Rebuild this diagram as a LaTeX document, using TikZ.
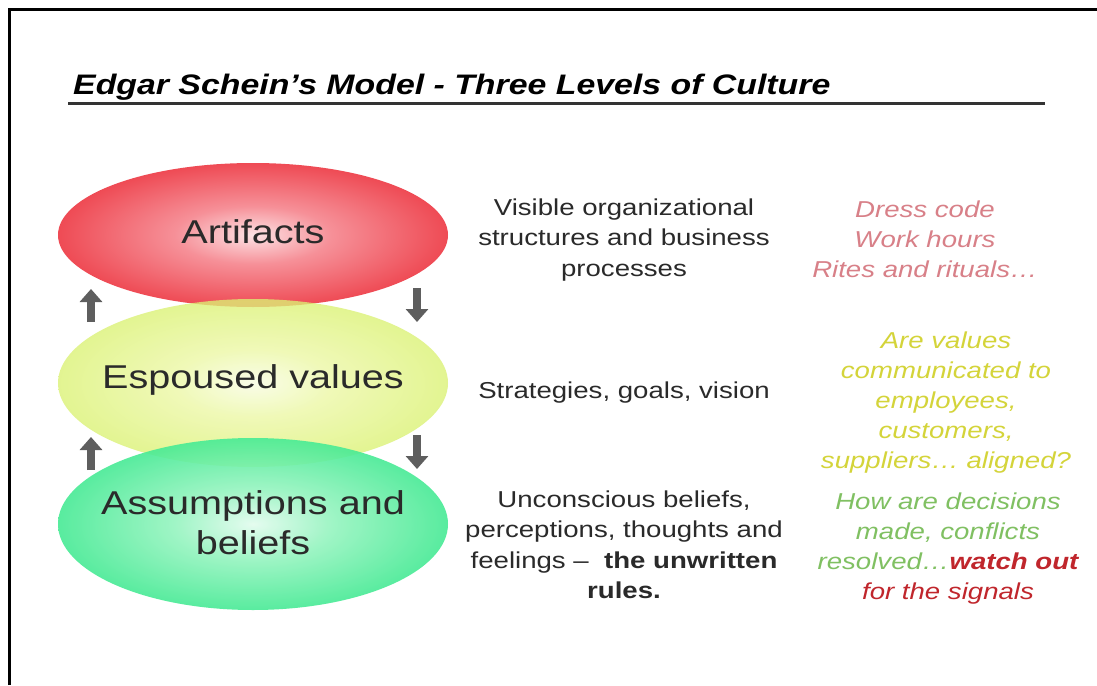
\documentclass[tikz,border=0pt]{standalone}
\usepackage{fontspec}
\usetikzlibrary{shapes.geometric, arrows.meta, positioning}
\newfontfamily\wsans[FakeStretch=1.2]{Liberation Sans}

\definecolor{artlight}{HTML}{FCE2E4}
\definecolor{artmid}{HTML}{F69098}
\definecolor{artdeep}{HTML}{EE4650}
\definecolor{artred}{HTML}{E82E38}
\definecolor{vallight}{HTML}{F8FCE2}
\definecolor{valmid}{HTML}{ECF8A4}
\definecolor{valdeep}{HTML}{DAF270}
\definecolor{valyellow}{HTML}{CCEC44}
\definecolor{asslight}{HTML}{E2FCEE}
\definecolor{assmid}{HTML}{96F4C0}
\definecolor{assdeep}{HTML}{42EA92}
\definecolor{assgreen}{HTML}{16DE6C}
\definecolor{txtdark}{HTML}{2A2A2A}
\definecolor{arrowgray}{HTML}{5E5E5E}
\definecolor{notered}{HTML}{D88088}
\definecolor{noteyellow}{HTML}{D4D43A}
\definecolor{notegreen}{HTML}{80C062}
\definecolor{signalred}{HTML}{C0262C}

% radial fills for the three layers
\pgfdeclareradialshading{artglow}{\pgfpoint{0bp}{0bp}}{color(0bp)=(artlight); color(10bp)=(artmid); color(26bp)=(artdeep); color(42bp)=(artred); color(50bp)=(artred)}
\pgfdeclareradialshading{valglow}{\pgfpoint{0bp}{0bp}}{color(0bp)=(vallight); color(10bp)=(valmid); color(26bp)=(valdeep); color(42bp)=(valyellow); color(50bp)=(valyellow)}
\pgfdeclareradialshading{assglow}{\pgfpoint{0bp}{0bp}}{color(0bp)=(asslight); color(10bp)=(assmid); color(26bp)=(assdeep); color(42bp)=(assgreen); color(50bp)=(assgreen)}

\tikzset{
  layer/.style={ellipse, inner sep=0pt, minimum width=390}, % the three stacked ellipses
  layertext/.style={align=center, text=txtdark, font=\wsans\fontsize{33}{40}\selectfont},
  midtext/.style={align=center, text=txtdark, font=\wsans\fontsize{23}{30.5}\selectfont},
  note/.style={align=center, font=\wsans\itshape\fontsize{23}{30}\selectfont},
  flow/.style={draw=arrowgray, line width=8pt, -{Triangle[width=22pt, length=13pt]}},
}

\begin{document}
\begin{tikzpicture}[x=1pt, y=-1pt]
  \useasboundingbox (0,0) rectangle (1097,685);
  \fill[white] (0,0) rectangle (1097,685);
  % frame
  \draw[line width=3pt] (9,685) |- (1097,10);

  % title
  \node[anchor=base west, inner sep=0pt, font=\wsans\bfseries\itshape\fontsize{28.2}{32}\selectfont] (title) at (73,94)
    {Edgar Schein’s Model - Three Levels of Culture};
  \draw[line width=3pt, color=black!80] (68,103) -- (1045,103);

  % layers
  \node[layer, shading=artglow, minimum height=144] (art) at (253,235) {};
  \node[layer, shading=valglow, fill opacity=0.78, minimum height=168] (val) at (253,383) {};
  \node[layer, shading=assglow, fill opacity=0.9, minimum height=172] (ass) at (253,524) {};
  \node[layertext] (arttext) at ([yshift=3]art.center) {Artifacts};
  \node[layertext] (valtext) at ([yshift=3]val.center) {Espoused values};
  \node[layertext] (asstext) at ([yshift=1]ass.center) {Assumptions and\\beliefs};

  % arrows between the layers
  \coordinate (upa) at (91,322);   \coordinate (upb) at (91,289);
  \coordinate (upc) at (91,470);   \coordinate (upd) at (91,437);
  \coordinate (dna) at (417,288);  \coordinate (dnb) at (417,322);
  \coordinate (dnc) at (417,435);  \coordinate (dnd) at (417,469);
  \draw[flow] (upa) -- (upb);
  \draw[flow] (upc) -- (upd);
  \draw[flow] (dna) -- (dnb);
  \draw[flow] (dnc) -- (dnd);

  % descriptions
  \node[midtext] (artdesc) at (624,240) {Visible organizational\\structures and business\\processes};
  \node[midtext] (valdesc) at (624,393) {Strategies, goals, vision};
  \node[midtext] (assdesc) at (624,545) {Unconscious beliefs,\\perceptions, thoughts and\\feelings –\ \ \textbf{the unwritten}\\\textbf{rules.}};

  % examples
  \node[note, text=notered] (artnote) at (925,239) {Dress code\\Work hours\\Rites and rituals…};
  \node[note, text=noteyellow] (valnote) at (946,403) {Are values\\communicated to\\employees,\\customers,\\suppliers… aligned?};
  \node[note, text=notegreen] (assnote) at (948,549) {How are decisions\\made, conflicts\\resolved…\textcolor{signalred}{\bfseries watch out}\\\textcolor{signalred}{for the signals}};
\end{tikzpicture}
\end{document}
